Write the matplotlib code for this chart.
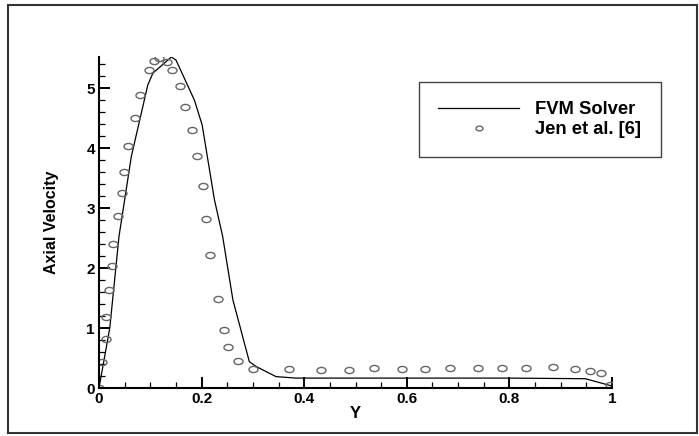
import matplotlib.pyplot as plt
import matplotlib.patches as patches
from matplotlib.path import Path
from matplotlib.transforms import Affine2D
from matplotlib.ticker import MultipleLocator

# FVM solver curve
fvm_y = [0.0, 0.021, 0.039, 0.063, 0.095, 0.105, 0.141, 0.150, 0.186, 0.201,
         0.225, 0.241, 0.261, 0.293, 0.306, 0.345, 0.384, 0.600, 0.800, 0.948, 0.997, 1.0]
fvm_u = [0.0, 1.00, 2.53, 3.86, 5.05, 5.25, 5.52, 5.47, 4.80, 4.39,
         3.14, 2.53, 1.47, 0.44, 0.36, 0.19, 0.165, 0.165, 0.165, 0.155, 0.04, 0.02]

# Jen et al. [6]
jen_y = [0.0, 0.0066, 0.0144, 0.013, 0.0195, 0.0247, 0.0272, 0.037, 0.0447, 0.0486,
         0.0564, 0.070, 0.079, 0.0967, 0.107, 0.117, 0.132, 0.143, 0.157, 0.167,
         0.181, 0.192, 0.202, 0.2095, 0.217, 0.232, 0.243, 0.252, 0.271, 0.301,
         0.370, 0.433, 0.488, 0.537, 0.590, 0.636, 0.685, 0.739, 0.786, 0.833,
         0.885, 0.927, 0.958, 0.979, 0.997]
jen_u = [0.0, 0.44, 0.81, 1.19, 1.63, 2.03, 2.40, 2.87, 3.25, 3.61,
         4.04, 4.51, 4.88, 5.30, 5.46, 5.50, 5.44, 5.30, 5.04, 4.69,
         4.30, 3.87, 3.37, 2.82, 2.22, 1.48, 0.96, 0.69, 0.45, 0.32,
         0.32, 0.305, 0.305, 0.33, 0.32, 0.32, 0.33, 0.33, 0.33, 0.33,
         0.35, 0.32, 0.29, 0.25, 0.05]

plt.rcParams['font.family'] = ['Liberation Sans', 'DejaVu Sans']

W, H = 699, 436
fig = plt.figure(figsize=(W / 100, H / 100), dpi=100)
ax = fig.add_axes([99 / W, 1 - 388 / H, (612 - 99) / W, (388 - 57) / H])

# outer frame
fig.patches.append(patches.Rectangle((8 / W, 1 - 433 / H), (697 - 8) / W, (433 - 5) / H,
                                     transform=fig.transFigure, fill=False,
                                     edgecolor='#333333', linewidth=1.5))

# slightly flattened open circle like the original
ellipse = Path.unit_circle().transformed(Affine2D().scale(1.0, 0.68))

ax.plot(fvm_y, fvm_u, color='black', linewidth=0.9, label='FVM Solver')
ax.plot(jen_y, jen_u, linestyle='none', marker=ellipse, markersize=6.5,
        markerfacecolor='none', markeredgecolor='#666666', markeredgewidth=1.0,
        label='Jen et al. [6]')

ax.set_xlim(0, 1)
ax.set_ylim(0, 5.52)
ax.xaxis.set_minor_locator(MultipleLocator(0.05))
ax.yaxis.set_major_locator(MultipleLocator(1))
ax.yaxis.set_minor_locator(MultipleLocator(0.2))
ax.set_xticks([0, 0.2, 0.4, 0.6, 0.8, 1.0])
ax.set_xticklabels(['0', '0.2', '0.4', '0.6', '0.8', '1'])

for s in ['top', 'right']:
    ax.spines[s].set_visible(False)
for s in ['left', 'bottom']:
    ax.spines[s].set_linewidth(1.5)

ax.tick_params(which='major', direction='in', length=8, width=1.4, labelsize=11, pad=3)
ax.tick_params(which='minor', direction='in', length=4.5, width=0.9)
for lbl in ax.get_xticklabels() + ax.get_yticklabels():
    lbl.set_fontweight('bold')

ax.set_xlabel('Y', fontsize=12, fontweight='bold', labelpad=0)
ax.set_ylabel('Axial Velocity', fontsize=11.5, fontweight='bold', labelpad=20)

leg = ax.legend(loc='upper left', bbox_to_anchor=(419 / W, 1 - 82 / H),
                bbox_transform=fig.transFigure, borderaxespad=0,
                fancybox=False, framealpha=1, edgecolor='#444444',
                handlelength=4.4, handletextpad=0.9, borderpad=1.05,
                labelspacing=0.15, prop={'weight': 'bold', 'size': 13.2})
leg.get_frame().set_linewidth(1.0)
leg.legend_handles[1].set_markersize(5)

fig.savefig('out.png', dpi=100)
